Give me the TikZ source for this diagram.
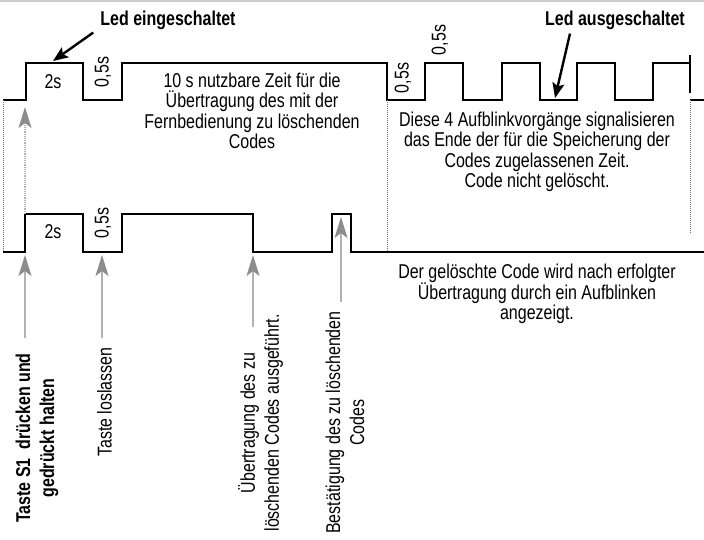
\documentclass[tikz,border=0pt]{standalone}
\usepackage{fontspec}
\setmainfont{Liberation Sans}[FakeStretch=0.8]
\usetikzlibrary{arrows.meta}

\begin{document}
\setlength{\lineskiplimit}{-20pt}
\begin{tikzpicture}[
        x=1pt, y=-1pt, inner sep=0pt,
        font=\fontsize{20}{20.5}\selectfont,
        signal/.style={line width=2.2pt, line join=miter},
        hilfslinie/.style={draw=black!55, line width=1pt, densely dotted},
        zeiger/.style={draw=black!30, line width=1.2pt,
            -{Stealth[length=21pt, width=13pt, inset=5pt, color=black!45]}},
        ledpfeil/.style={line width=2.4pt, -{Stealth[length=15pt, width=12pt, inset=3pt]}},
        fett/.style={font=\fontsize{20}{21}\selectfont\bfseries},
        hoch/.style={rotate=90},
        lang/.style={hoch, align=center, font=\fontsize{20}{24}\selectfont}]

    \useasboundingbox (0,0) rectangle (704,539);
    \draw[black!20, line width=1.5pt] (0,0.75) -- (704,0.75);

    % obere Zeile: Led
    \draw[signal] (3,100) -| (26,63) -| (83,100) -| (122,63) -| (387,100)
        -| (425,63) -| (463,100) -| (502,63) -| (540,100) -| (577,63)
        -| (615,100) -| (653,63) -- (690,63);
    \draw[signal] (690,55) -- (690,93);
    \draw[signal] (690,100) -- (704,100);

    % untere Zeile: Taste S1
    \draw[signal] (3,252) -| (25,214) -| (83,252) -| (122,214) -| (253,252)
        -| (332,214) -| (351,252) -- (704,252);

    % Hilfslinien
    \draw[hilfslinie] (3,100) -- (3,252);
    \draw[hilfslinie] (387,100) -- (387,252);
    \draw[hilfslinie] (690,100) -- (690,233);

    % Beschriftungen oben
    \node[fett] (ledein) at (168,20) {Led eingeschaltet};
    \node[fett] (ledaus) at (615,20) {Led ausgeschaltet};
    \coordinate (ein) at (53,61);
    \coordinate (aus) at (555,98);
    \draw[ledpfeil] ([shift={(-7pt,-3pt)}]ledein.south west) -- (ein);
    \draw[ledpfeil] ([shift={(25pt,-4pt)}]ledaus.south west) -- (aus);

    \node (o2s) at (53,82) {2s};
    \node[hoch] (o05a) at (103,72) {0,5s};
    \node[hoch] (o05b) at (403,78) {0,5s};
    \node[hoch] (o05c) at (440,40) {0,5s};
    \node[align=center] (zeit) at (252,111)
        {10 s nutzbare Zeit für die\\Übertragung des mit der\\Fernbedienung zu löschenden\\Codes};
    \node[align=center] (blinken) at (537,152)
        {Diese 4 Aufblinkvorgänge signalisieren\\das Ende der für die Speicherung der\\Codes zugelassenen Zeit.\\Code nicht gelöscht.};

    % Beschriftungen unten
    \node (u2s) at (53,232) {2s};
    \node[hoch] (u05) at (103,223) {0,5s};
    \node[align=center] (quittung) at (537,294)
        {Der gelöschte Code wird nach erfolgter\\Übertragung durch ein Aufblinken\\angezeigt.};

    % Zeiger von oben nach unten
    \coordinate (druck) at (25,214);
    \coordinate (druckspitze) at (25,107);
    \draw[zeiger, densely dotted] (druck) -- (druckspitze);

    % Zeiger der Tastenereignisse
    \coordinate (f1) at (25,338);   \coordinate (s1) at (25,255);
    \coordinate (f2) at (102,338);  \coordinate (s2) at (102,255);
    \coordinate (f3) at (253,327);  \coordinate (s3) at (253,255);
    \coordinate (f4) at (341,302);  \coordinate (s4) at (341,217);
    \draw[zeiger] (f1) -- (s1);
    \draw[zeiger] (f2) -- (s2);
    \draw[zeiger] (f3) -- (s3);
    \draw[zeiger] (f4) -- (s4);

    \node[lang, font=\fontsize{20}{24}\selectfont\bfseries] (druecken) at (37,438)
        {Taste S1\ \ drücken und\\gedrückt halten};
    \node[lang] (loslassen) at (104.5,402) {Taste loslassen};
    \node[lang] (uebertragung) at (260.5,423)
        {Übertragung des zu\\löschenden Codes ausgeführt.};
    \node[lang] (bestaetigung) at (345,422.5)
        {Bestätigung des zu löschenden\\Codes};
\end{tikzpicture}
\end{document}
